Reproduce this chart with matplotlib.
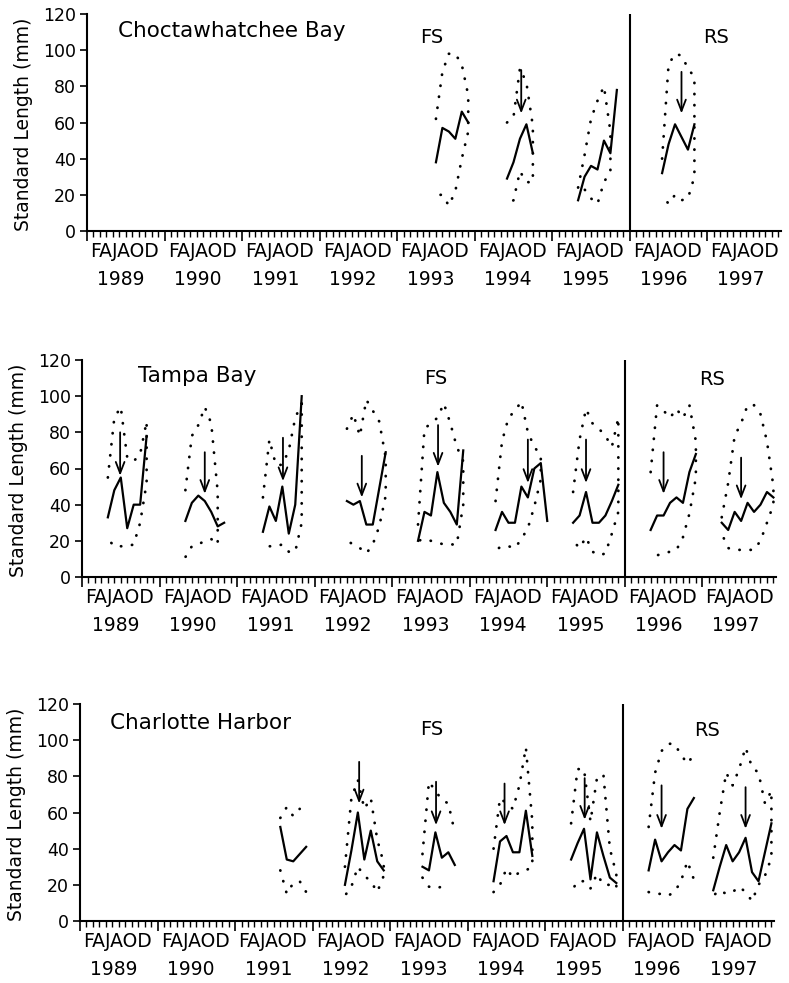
import numpy as np
import matplotlib
matplotlib.use('Agg')
import matplotlib.pyplot as plt

plt.rcParams.update({'font.family': 'DejaVu Sans', 'font.size': 12.5})

years = ['1989', '1990', '1991', '1992', '1993', '1994', '1995', '1996', '1997']
month_letters = 'FAJAOD'

# Choctawhatchee Bay: first month index (0 = Jan 1989), median SL, upper and lower SL
choc_start = [54, 65, 76, 89]
choc_median = [[38, 57, 55, 51, 66, 60], [29, 38, 51, 59, 43],
               [17, 30, 36, 34, 50, 43, 78], [32, 48, 59, 52, 45, 59]]
choc_upper = [[62, 88, 98, 98, 92, 75], [60, 63, 90, 82, 58],
              [24, 42, 62, 72, 80, 55], [40, 92, 98, 97, 90, 85]]
choc_lower = [[20, 20, 14, 22, 40, 55], [14, 17, 33, 27, 27],
              [22, 23, 18, 15, 27, 33], [20, 15, 20, 17, 18, 30]]
choc_closed = [True, True, True, True]
choc_arrow_month = [67.2, 92.0]
choc_arrow_from = [89, 88]
choc_arrow_to = [65, 65]

# Tampa Bay
tampa_start = [4, 16, 28, 41, 52, 64, 76, 88, 99]
tampa_median = [[33, 48, 55, 27, 40, 40, 78],
                [31, 41, 45, 42, 36, 28, 30],
                [25, 39, 31, 50, 24, 40, 100],
                [42, 40, 42, 29, 29, 49, 69],
                [20, 36, 34, 58, 41, 36, 29, 70],
                [26, 36, 30, 30, 50, 44, 60, 63, 31],
                [30, 34, 47, 30, 30, 34, 42, 51],
                [26, 34, 34, 41, 44, 41, 58, 68],
                [30, 26, 36, 31, 41, 36, 40, 47, 44]]
tampa_upper = [[55, 88, 94, 66, 64, 68, 86],
               [48, 78, 84, 94, 85, 47],
               [44, 76, 62, 62, 70, 88, 96],
               [82, 90, 78, 98, 92, 86, 66],
               [29, 82, 85, 88, 96, 85, 72, 64],
               [42, 75, 88, 92, 97, 80, 72, 67],
               [47, 76, 93, 85, 82, 78, 72, 88],
               [58, 95, 92, 88, 93, 88, 95, 75],
               [33, 52, 78, 85, 95, 95, 90, 75, 50]]
tampa_lower = [[21, 17, 17, 17, 18, 30, 52],
               [11, 17, 18, 20, 21, 18],
               [17, 17, 17, 18, 14, 14, 30],
               [20, 18, 16, 13, 18, 28, 45],
               [20, 21, 20, 19, 18, 18, 18, 40],
               [15, 17, 17, 16, 21, 27, 39, 54],
               [20, 16, 22, 14, 12, 13, 24, 36],
               [10, 12, 13, 14, 15, 22, 35, 55],
               [24, 16, 15, 15, 15, 15, 20, 30, 40]]
tampa_closed = [True] * 9
tampa_arrow_month = [5.9, 19.0, 31.1, 43.3, 55.1, 69.0, 78.0, 90.0, 102.0]
tampa_arrow_from = [80, 69, 77, 67, 84, 76, 76, 69, 66]
tampa_arrow_to = [56, 46, 53, 44, 61, 52, 52, 46, 43]

# Charlotte Harbor
char_start = [31, 41, 53, 64, 76, 88, 98]
char_median = [[52, 34, 33, 37, 41],
               [20, 39, 60, 34, 50, 33, 28],
               [30, 28, 49, 35, 38, 31],
               [22, 44, 47, 38, 38, 61, 36],
               [34, 43, 51, 23, 49, 36, 24, 21],
               [28, 45, 33, 38, 42, 39, 62, 68],
               [17, 30, 42, 33, 38, 46, 27, 22, 38, 54]]
char_upper = [[57, 63, 58, 62],
              [30, 68, 78, 62, 68, 45, 32],
              [37, 77, 72, 67, 65, 49],
              [40, 68, 65, 62, 75, 96, 55],
              [54, 84, 84, 55, 79, 81, 40, 26],
              [52, 82, 94, 98, 98, 92, 87, 92],
              [35, 60, 82, 75, 84, 96, 85, 82, 65, 72]]
char_lower = [[28, 15, 21, 22, 16],
              [14, 19, 30, 25, 22, 16, 25],
              [24, 19, 18, 19, 19],
              [16, 20, 29, 24, 27, 28, 30],
              [16, 22, 22, 18, 26, 20, 20, 18],
              [16, 15, 15, 14, 16, 22, 33, 23],
              [14, 17, 15, 16, 19, 16, 11, 20, 25, 35]]
char_closed = [False, True, False, True, True, False, True]
char_arrow_month = [43.2, 55.1, 65.7, 78.1, 90.0, 103.0]
char_arrow_from = [88, 77, 76, 79, 75, 74]
char_arrow_to = [65, 53, 53, 56, 51, 51]

panels = [
    dict(name='Choctawhatchee Bay', start=choc_start, median=choc_median, upper=choc_upper,
         lower=choc_lower, closed=choc_closed, am=choc_arrow_month, af=choc_arrow_from,
         at=choc_arrow_to, left=87, base=231, title=(4.8, 110.5), fs=(53.3, 107), rs=(97.3, 107)),
    dict(name='Tampa Bay', start=tampa_start, median=tampa_median, upper=tampa_upper,
         lower=tampa_lower, closed=tampa_closed, am=tampa_arrow_month, af=tampa_arrow_from,
         at=tampa_arrow_to, left=82, base=577, title=(8.7, 111), fs=(54.8, 109.5), rs=(97.5, 109)),
    dict(name='Charlotte Harbor', start=char_start, median=char_median, upper=char_upper,
         lower=char_lower, closed=char_closed, am=char_arrow_month, af=char_arrow_from,
         at=char_arrow_to, left=80, base=921, title=(4.6, 109.5), fs=(54.4, 106), rs=(97.1, 105.6)),
]

W, H = 789, 983
fig = plt.figure(figsize=(W / 100, H / 100), dpi=100)
dot_style = dict(color='k', lw=2.0, linestyle=(0, (0.1, 3.9)), dash_capstyle='round')

for p in panels:
    ax = fig.add_axes([p['left'] / W, 1 - p['base'] / H, 694 / W, 217 / H])
    for start, med, up, lo, closed in zip(p['start'], p['median'], p['upper'], p['lower'], p['closed']):
        ax.plot(start + np.arange(len(med)), med, color='k', lw=1.6)
        um = start + np.arange(len(up))
        lm = start + np.arange(len(lo))
        if closed:
            ax.plot(np.concatenate([um, lm[::-1]]), np.concatenate([up, lo[::-1]]), **dot_style)
        else:
            ax.plot(um, up, **dot_style)
            ax.plot(lm, lo, **dot_style)
    for m, a, b in zip(p['am'], p['af'], p['at']):
        ax.annotate('', xy=(m, b), xytext=(m, a),
                    arrowprops=dict(arrowstyle='->,head_length=0.65,head_width=0.25',
                                    lw=1.3, color='k', shrinkA=0, shrinkB=0))
    ax.axvline(84, color='k', lw=1.5)
    ax.text(p['title'][0], p['title'][1], p['name'], fontsize=15.5, va='center', ha='left')
    ax.text(p['fs'][0], p['fs'][1], 'FS', fontsize=14, va='center', ha='center')
    ax.text(p['rs'][0], p['rs'][1], 'RS', fontsize=14, va='center', ha='center')

    ax.set_xlim(0, 107.4)
    ax.set_ylim(0, 120)
    ax.set_yticks(np.arange(0, 121, 20))
    ax.set_xticks(np.arange(0, 108, 12))
    ax.set_xticks(np.arange(0, 108, 1), minor=True)
    ax.tick_params(axis='x', which='major', direction='out', length=7, width=1.2, labelbottom=False)
    ax.tick_params(axis='x', which='minor', direction='out', length=4, width=1.0)
    ax.tick_params(axis='y', direction='out', length=5, width=1.2, pad=3, labelsize=12.5)
    for side in ['top', 'right']:
        ax.spines[side].set_visible(False)
    for side in ['left', 'bottom']:
        ax.spines[side].set_linewidth(1.5)

    for i, yr in enumerate(years):
        ax.annotate(month_letters, xy=(12 * i + 5.8, 0), xycoords=('data', 'axes fraction'),
                    xytext=(0, -14.5), textcoords='offset points', ha='center', va='center',
                    fontsize=13.5)
        ax.annotate(yr, xy=(12 * i + 5.2, 0), xycoords=('data', 'axes fraction'),
                    xytext=(0, -35), textcoords='offset points', ha='center', va='center',
                    fontsize=13.5)
    ax.text(-63 / 694, 0.49, 'Standard Length (mm)', transform=ax.transAxes, rotation=90,
            ha='center', va='center', fontsize=13.5)

fig.savefig('out.png', dpi=100)
